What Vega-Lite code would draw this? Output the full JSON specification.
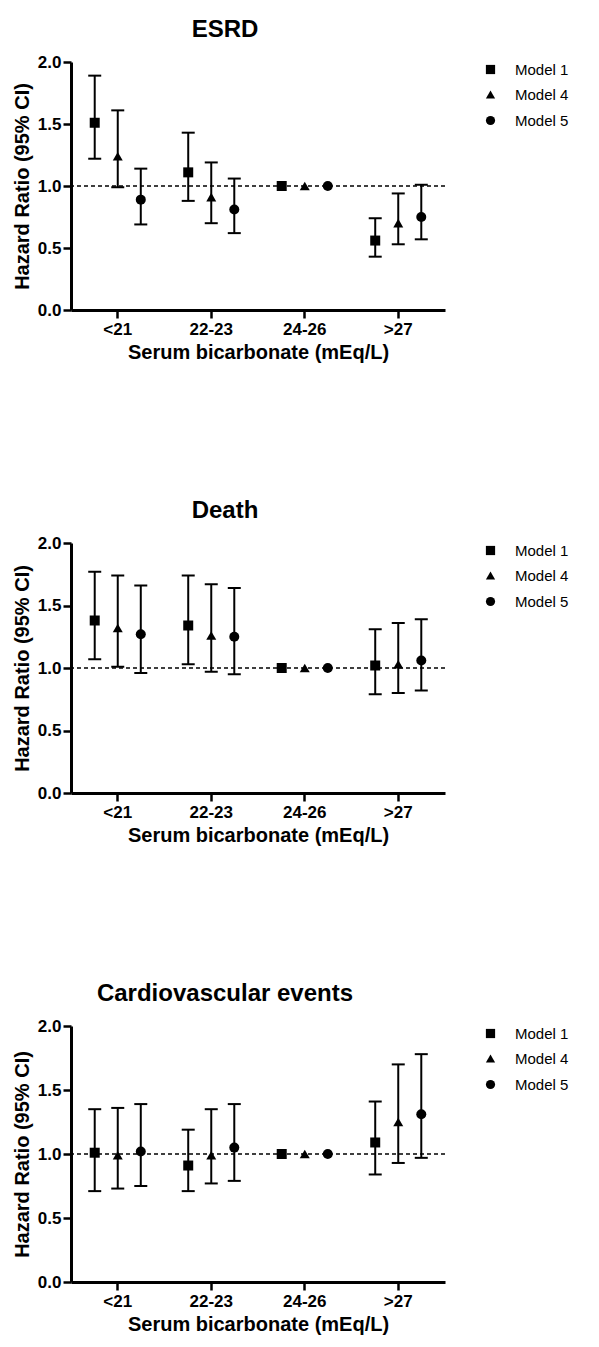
{
  "$schema": "https://vega.github.io/schema/vega-lite/v6.json",
  "background": "white",
  "padding": {"left": 12, "top": 18, "right": 5, "bottom": 5},
  "datasets": {
    "hr": [
      {"outcome": "ESRD", "group": "<21", "model": "Model 1", "hr": 1.51, "lo": 1.22, "hi": 1.89},
      {"outcome": "ESRD", "group": "<21", "model": "Model 4", "hr": 1.24, "lo": 0.99, "hi": 1.61},
      {"outcome": "ESRD", "group": "<21", "model": "Model 5", "hr": 0.89, "lo": 0.69, "hi": 1.14},
      {"outcome": "ESRD", "group": "22-23", "model": "Model 1", "hr": 1.11, "lo": 0.88, "hi": 1.43},
      {"outcome": "ESRD", "group": "22-23", "model": "Model 4", "hr": 0.91, "lo": 0.70, "hi": 1.19},
      {"outcome": "ESRD", "group": "22-23", "model": "Model 5", "hr": 0.81, "lo": 0.62, "hi": 1.06},
      {"outcome": "ESRD", "group": "24-26", "model": "Model 1", "hr": 1.0, "lo": null, "hi": null},
      {"outcome": "ESRD", "group": "24-26", "model": "Model 4", "hr": 1.0, "lo": null, "hi": null},
      {"outcome": "ESRD", "group": "24-26", "model": "Model 5", "hr": 1.0, "lo": null, "hi": null},
      {"outcome": "ESRD", "group": ">27", "model": "Model 1", "hr": 0.56, "lo": 0.43, "hi": 0.74},
      {"outcome": "ESRD", "group": ">27", "model": "Model 4", "hr": 0.70, "lo": 0.53, "hi": 0.94},
      {"outcome": "ESRD", "group": ">27", "model": "Model 5", "hr": 0.75, "lo": 0.57, "hi": 1.01},
      {"outcome": "Death", "group": "<21", "model": "Model 1", "hr": 1.38, "lo": 1.07, "hi": 1.77},
      {"outcome": "Death", "group": "<21", "model": "Model 4", "hr": 1.32, "lo": 1.01, "hi": 1.74},
      {"outcome": "Death", "group": "<21", "model": "Model 5", "hr": 1.27, "lo": 0.96, "hi": 1.66},
      {"outcome": "Death", "group": "22-23", "model": "Model 1", "hr": 1.34, "lo": 1.03, "hi": 1.74},
      {"outcome": "Death", "group": "22-23", "model": "Model 4", "hr": 1.26, "lo": 0.97, "hi": 1.67},
      {"outcome": "Death", "group": "22-23", "model": "Model 5", "hr": 1.25, "lo": 0.95, "hi": 1.64},
      {"outcome": "Death", "group": "24-26", "model": "Model 1", "hr": 1.0, "lo": null, "hi": null},
      {"outcome": "Death", "group": "24-26", "model": "Model 4", "hr": 1.0, "lo": null, "hi": null},
      {"outcome": "Death", "group": "24-26", "model": "Model 5", "hr": 1.0, "lo": null, "hi": null},
      {"outcome": "Death", "group": ">27", "model": "Model 1", "hr": 1.02, "lo": 0.79, "hi": 1.31},
      {"outcome": "Death", "group": ">27", "model": "Model 4", "hr": 1.03, "lo": 0.80, "hi": 1.36},
      {"outcome": "Death", "group": ">27", "model": "Model 5", "hr": 1.06, "lo": 0.82, "hi": 1.39},
      {"outcome": "CV", "group": "<21", "model": "Model 1", "hr": 1.01, "lo": 0.71, "hi": 1.35},
      {"outcome": "CV", "group": "<21", "model": "Model 4", "hr": 0.99, "lo": 0.73, "hi": 1.36},
      {"outcome": "CV", "group": "<21", "model": "Model 5", "hr": 1.02, "lo": 0.75, "hi": 1.39},
      {"outcome": "CV", "group": "22-23", "model": "Model 1", "hr": 0.91, "lo": 0.71, "hi": 1.19},
      {"outcome": "CV", "group": "22-23", "model": "Model 4", "hr": 0.99, "lo": 0.77, "hi": 1.35},
      {"outcome": "CV", "group": "22-23", "model": "Model 5", "hr": 1.05, "lo": 0.79, "hi": 1.39},
      {"outcome": "CV", "group": "24-26", "model": "Model 1", "hr": 1.0, "lo": null, "hi": null},
      {"outcome": "CV", "group": "24-26", "model": "Model 4", "hr": 1.0, "lo": null, "hi": null},
      {"outcome": "CV", "group": "24-26", "model": "Model 5", "hr": 1.0, "lo": null, "hi": null},
      {"outcome": "CV", "group": ">27", "model": "Model 1", "hr": 1.09, "lo": 0.84, "hi": 1.41},
      {"outcome": "CV", "group": ">27", "model": "Model 4", "hr": 1.25, "lo": 0.93, "hi": 1.70},
      {"outcome": "CV", "group": ">27", "model": "Model 5", "hr": 1.31, "lo": 0.97, "hi": 1.78}
    ]
  },
  "config": {
    "font": "Liberation Sans",
    "view": {"stroke": null},
    "axis": {
      "grid": false,
      "domainColor": "black", "domainWidth": 3,
      "tickColor": "black", "tickWidth": 2.5, "tickSize": 8,
      "labelFont": "Liberation Sans", "labelFontWeight": "bold", "labelFontSize": 17, "labelColor": "black",
      "titleFont": "Liberation Sans", "titleFontWeight": "bold", "titleFontSize": 20, "titleColor": "black"
    },
    "axisX": {"labelAngle": 0, "labelPadding": 3, "titlePadding": 5},
    "axisY": {"labelPadding": 2, "titlePadding": 5},
    "title": {"font": "Liberation Sans", "fontSize": 24, "fontWeight": "bold", "color": "black", "anchor": "middle", "dx": -33, "offset": 11},
    "legend": {
      "title": null, "orient": "right", "offset": 38, "padding": 0,
      "labelFont": "Liberation Sans", "labelFontSize": 15, "labelColor": "black",
      "symbolSize": 85, "symbolFillColor": "black", "symbolStrokeColor": "black",
      "rowPadding": 9, "labelOffset": 17
    }
  },
  "spacing": 137,
  "resolve": {"scale": {"shape": "independent", "x": "independent", "y": "independent", "xOffset": "independent"}, "legend": {"shape": "independent"}},
  "vconcat": [
    {
      "title": {"text": "ESRD"},
      "width": 374, "height": 248,
      "data": {"name": "hr"},
      "transform": [{"filter": "datum.outcome === 'ESRD'"}],
      "layer": [
        {
          "transform": [{"aggregate": [{"op": "count", "as": "n"}]}],
          "mark": {"type": "rule", "strokeDash": [4, 3], "strokeWidth": 1.6, "color": "black"},
          "encoding": {"y": {"datum": 1, "type": "quantitative", "scale": {"domain": [0, 2], "nice": false}, "axis": {"title": "Hazard Ratio (95% CI)", "values": [0, 0.5, 1, 1.5, 2], "format": ".1f"}}}
        },
        {
          "mark": {"type": "rule", "strokeWidth": 2, "color": "black"},
          "encoding": {
            "x": {"field": "group", "type": "nominal", "sort": ["<21", "22-23", "24-26", ">27"], "scale": {"paddingInner": 0, "paddingOuter": 0}, "axis": {"title": "Serum bicarbonate (mEq/L)"}},
            "xOffset": {"field": "model", "type": "nominal", "sort": ["Model 1", "Model 4", "Model 5"], "scale": {"paddingInner": 0, "paddingOuter": 0.53}},
            "y": {"field": "lo", "type": "quantitative", "title": "Hazard Ratio (95% CI)"},
            "y2": {"field": "hi"}
          }
        },
        {
          "mark": {"type": "tick", "orient": "horizontal", "size": 13, "thickness": 2, "color": "black", "opacity": 1},
          "encoding": {
            "x": {"field": "group", "type": "nominal", "sort": ["<21", "22-23", "24-26", ">27"]},
            "xOffset": {"field": "model", "type": "nominal", "sort": ["Model 1", "Model 4", "Model 5"]},
            "y": {"field": "lo", "type": "quantitative", "title": "Hazard Ratio (95% CI)"}
          }
        },
        {
          "mark": {"type": "tick", "orient": "horizontal", "size": 13, "thickness": 2, "color": "black", "opacity": 1},
          "encoding": {
            "x": {"field": "group", "type": "nominal", "sort": ["<21", "22-23", "24-26", ">27"]},
            "xOffset": {"field": "model", "type": "nominal", "sort": ["Model 1", "Model 4", "Model 5"]},
            "y": {"field": "hi", "type": "quantitative", "title": "Hazard Ratio (95% CI)"}
          }
        },
        {
          "mark": {"type": "point", "filled": true, "color": "black", "opacity": 1, "size": 100},
          "encoding": {
            "x": {"field": "group", "type": "nominal", "sort": ["<21", "22-23", "24-26", ">27"]},
            "xOffset": {"field": "model", "type": "nominal", "sort": ["Model 1", "Model 4", "Model 5"]},
            "y": {"field": "hr", "type": "quantitative", "title": "Hazard Ratio (95% CI)"},
            "shape": {"field": "model", "type": "nominal", "scale": {"domain": ["Model 1", "Model 4", "Model 5"], "range": ["square", "triangle-up", "circle"]}}
          }
        }
      ]
    },
    {
      "title": {"text": "Death"},
      "width": 374, "height": 250,
      "data": {"name": "hr"},
      "transform": [{"filter": "datum.outcome === 'Death'"}],
      "layer": [
        {
          "transform": [{"aggregate": [{"op": "count", "as": "n"}]}],
          "mark": {"type": "rule", "strokeDash": [4, 3], "strokeWidth": 1.6, "color": "black"},
          "encoding": {"y": {"datum": 1, "type": "quantitative", "scale": {"domain": [0, 2], "nice": false}, "axis": {"title": "Hazard Ratio (95% CI)", "values": [0, 0.5, 1, 1.5, 2], "format": ".1f"}}}
        },
        {
          "mark": {"type": "rule", "strokeWidth": 2, "color": "black"},
          "encoding": {
            "x": {"field": "group", "type": "nominal", "sort": ["<21", "22-23", "24-26", ">27"], "scale": {"paddingInner": 0, "paddingOuter": 0}, "axis": {"title": "Serum bicarbonate (mEq/L)"}},
            "xOffset": {"field": "model", "type": "nominal", "sort": ["Model 1", "Model 4", "Model 5"], "scale": {"paddingInner": 0, "paddingOuter": 0.53}},
            "y": {"field": "lo", "type": "quantitative", "title": "Hazard Ratio (95% CI)"},
            "y2": {"field": "hi"}
          }
        },
        {
          "mark": {"type": "tick", "orient": "horizontal", "size": 13, "thickness": 2, "color": "black", "opacity": 1},
          "encoding": {
            "x": {"field": "group", "type": "nominal", "sort": ["<21", "22-23", "24-26", ">27"]},
            "xOffset": {"field": "model", "type": "nominal", "sort": ["Model 1", "Model 4", "Model 5"]},
            "y": {"field": "lo", "type": "quantitative", "title": "Hazard Ratio (95% CI)"}
          }
        },
        {
          "mark": {"type": "tick", "orient": "horizontal", "size": 13, "thickness": 2, "color": "black", "opacity": 1},
          "encoding": {
            "x": {"field": "group", "type": "nominal", "sort": ["<21", "22-23", "24-26", ">27"]},
            "xOffset": {"field": "model", "type": "nominal", "sort": ["Model 1", "Model 4", "Model 5"]},
            "y": {"field": "hi", "type": "quantitative", "title": "Hazard Ratio (95% CI)"}
          }
        },
        {
          "mark": {"type": "point", "filled": true, "color": "black", "opacity": 1, "size": 100},
          "encoding": {
            "x": {"field": "group", "type": "nominal", "sort": ["<21", "22-23", "24-26", ">27"]},
            "xOffset": {"field": "model", "type": "nominal", "sort": ["Model 1", "Model 4", "Model 5"]},
            "y": {"field": "hr", "type": "quantitative", "title": "Hazard Ratio (95% CI)"},
            "shape": {"field": "model", "type": "nominal", "scale": {"domain": ["Model 1", "Model 4", "Model 5"], "range": ["square", "triangle-up", "circle"]}}
          }
        }
      ]
    },
    {
      "title": {"text": "Cardiovascular events", "offset": 11},
      "width": 374, "height": 256,
      "data": {"name": "hr"},
      "transform": [{"filter": "datum.outcome === 'CV'"}],
      "layer": [
        {
          "transform": [{"aggregate": [{"op": "count", "as": "n"}]}],
          "mark": {"type": "rule", "strokeDash": [4, 3], "strokeWidth": 1.6, "color": "black"},
          "encoding": {"y": {"datum": 1, "type": "quantitative", "scale": {"domain": [0, 2], "nice": false}, "axis": {"title": "Hazard Ratio (95% CI)", "values": [0, 0.5, 1, 1.5, 2], "format": ".1f"}}}
        },
        {
          "mark": {"type": "rule", "strokeWidth": 2, "color": "black"},
          "encoding": {
            "x": {"field": "group", "type": "nominal", "sort": ["<21", "22-23", "24-26", ">27"], "scale": {"paddingInner": 0, "paddingOuter": 0}, "axis": {"title": "Serum bicarbonate (mEq/L)"}},
            "xOffset": {"field": "model", "type": "nominal", "sort": ["Model 1", "Model 4", "Model 5"], "scale": {"paddingInner": 0, "paddingOuter": 0.53}},
            "y": {"field": "lo", "type": "quantitative", "title": "Hazard Ratio (95% CI)"},
            "y2": {"field": "hi"}
          }
        },
        {
          "mark": {"type": "tick", "orient": "horizontal", "size": 13, "thickness": 2, "color": "black", "opacity": 1},
          "encoding": {
            "x": {"field": "group", "type": "nominal", "sort": ["<21", "22-23", "24-26", ">27"]},
            "xOffset": {"field": "model", "type": "nominal", "sort": ["Model 1", "Model 4", "Model 5"]},
            "y": {"field": "lo", "type": "quantitative", "title": "Hazard Ratio (95% CI)"}
          }
        },
        {
          "mark": {"type": "tick", "orient": "horizontal", "size": 13, "thickness": 2, "color": "black", "opacity": 1},
          "encoding": {
            "x": {"field": "group", "type": "nominal", "sort": ["<21", "22-23", "24-26", ">27"]},
            "xOffset": {"field": "model", "type": "nominal", "sort": ["Model 1", "Model 4", "Model 5"]},
            "y": {"field": "hi", "type": "quantitative", "title": "Hazard Ratio (95% CI)"}
          }
        },
        {
          "mark": {"type": "point", "filled": true, "color": "black", "opacity": 1, "size": 100},
          "encoding": {
            "x": {"field": "group", "type": "nominal", "sort": ["<21", "22-23", "24-26", ">27"]},
            "xOffset": {"field": "model", "type": "nominal", "sort": ["Model 1", "Model 4", "Model 5"]},
            "y": {"field": "hr", "type": "quantitative", "title": "Hazard Ratio (95% CI)"},
            "shape": {"field": "model", "type": "nominal", "scale": {"domain": ["Model 1", "Model 4", "Model 5"], "range": ["square", "triangle-up", "circle"]}}
          }
        }
      ]
    }
  ]
}
